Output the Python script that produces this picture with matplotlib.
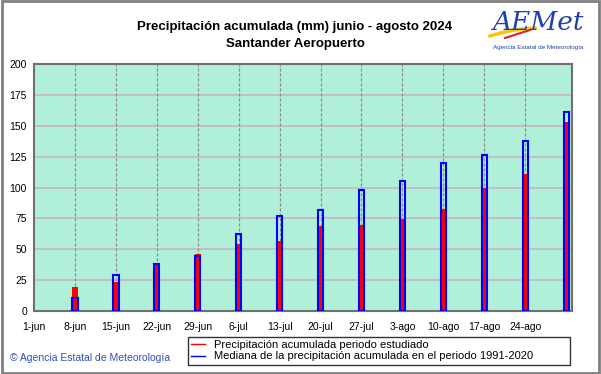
import numpy as np
import matplotlib.pyplot as plt
from matplotlib.patches import Rectangle
from matplotlib.lines import Line2D

plt.rcParams['font.family'] = ['Liberation Sans', 'DejaVu Sans']

# days counted from 1-jun
tick_days = [0, 7, 14, 21, 28, 35, 42, 49, 56, 63, 70, 77, 84]
tick_labels = ['1-jun', '8-jun', '15-jun', '22-jun', '29-jun', '6-jul', '13-jul',
               '20-jul', '27-jul', '3-ago', '10-ago', '17-ago', '24-ago']
bar_days = [7, 14, 21, 28, 35, 42, 49, 56, 63, 70, 77, 84, 91]
prec_obs = [19.2, 23.8, 37.5, 46.0, 54.1, 56.8, 69.0, 69.6, 74.2, 82.3, 99.9, 111.1, 152.7]
prec_median = [10.4, 29.4, 38.1, 44.6, 62.2, 77.3, 81.5, 97.7, 105.5, 119.6, 126.6, 137.6, 160.8]

fig = plt.figure(figsize=(6.01, 3.74), dpi=100)
ax = fig.add_axes([34/601, 1-311/374, (572-34)/601, (311-64)/374])

ax.set_facecolor('#b0f0d8')
ax.set_xlim(0, 92)
ax.set_ylim(0, 200)

# grid
for y in range(25, 200, 25):
    ax.axhline(y, color='#c8b4c8', lw=1.2, zorder=1)
for d in tick_days[1:]:
    ax.axvline(d, color='#8c8c8c', lw=0.9, ls=(0, (2.5, 1.5)), zorder=1)

ax.bar(bar_days, prec_obs, width=0.95, color='#ff0000', zorder=2,
       label='Precipitación acumulada periodo estudiado')
ax.bar(bar_days, prec_median, width=0.9, facecolor='none', edgecolor='#0000ff',
       lw=1.5, zorder=3, label='Mediana de la precipitación acumulada en el periodo 1991-2020')

ax.set_yticks(range(0, 201, 25))
ax.set_xticks(tick_days)
ax.set_xticklabels(tick_labels)
ax.tick_params(axis='both', length=0, labelsize=7.5, colors='black')
ax.tick_params(axis='y', pad=5)
ax.tick_params(axis='x', pad=8)
for s in ax.spines.values():
    s.set_color('#707070')
    s.set_linewidth(1.5)

fig.text(295/601, 1-27/374, 'Precipitación acumulada (mm) junio - agosto 2024',
         ha='center', va='center', fontsize=9.5, fontweight='bold')
fig.text(295/601, 1-44/374, 'Santander Aeropuerto',
         ha='center', va='center', fontsize=9.5, fontweight='bold')

# logo (rough approximation)
t = np.linspace(0, 1, 30)
fig.add_artist(Line2D((490 + 45*t)/601, 1-(36 - 14*t + 6*t**2)/374, color='#f5c800', lw=2.5))
fig.add_artist(Line2D((505 + 25*t)/601, 1-(38 - 8*t)/374, color='#e02020', lw=1.5))
fig.text(538/601, 1-23/374, 'AEMet', ha='center', va='center', fontsize=19,
         style='italic', color='#2040b0', family=['DejaVu Serif'])
fig.text(538/601, 1-48/374, 'Agencia Estatal de Meteorología', ha='center', va='center',
         fontsize=4.5, color='#2040b0')

fig.text(10/601, 1-358/374, '© Agencia Estatal de Meteorología', ha='left', va='center',
         fontsize=7.5, color='#3050c0')

h, l = ax.get_legend_handles_labels()
handles = [Line2D([], [], color='#ff0000', lw=1), Line2D([], [], color='#0000ff', lw=1)]
leg = fig.legend(handles, l, loc='upper left', bbox_to_anchor=(188/601, 1-337/374, 382/601, 0),
                 mode='expand', fontsize=8, frameon=True, fancybox=False, edgecolor='black',
                 handlelength=1.2, handletextpad=0.8, borderpad=0.3, labelspacing=0.1,
                 borderaxespad=0)
leg.get_frame().set_linewidth(1)

fig.patches.append(Rectangle((0.003, 0.004), 0.994, 0.992, transform=fig.transFigure,
                             fill=False, edgecolor='#808080', lw=2))

fig.savefig('out.png', dpi=100)
